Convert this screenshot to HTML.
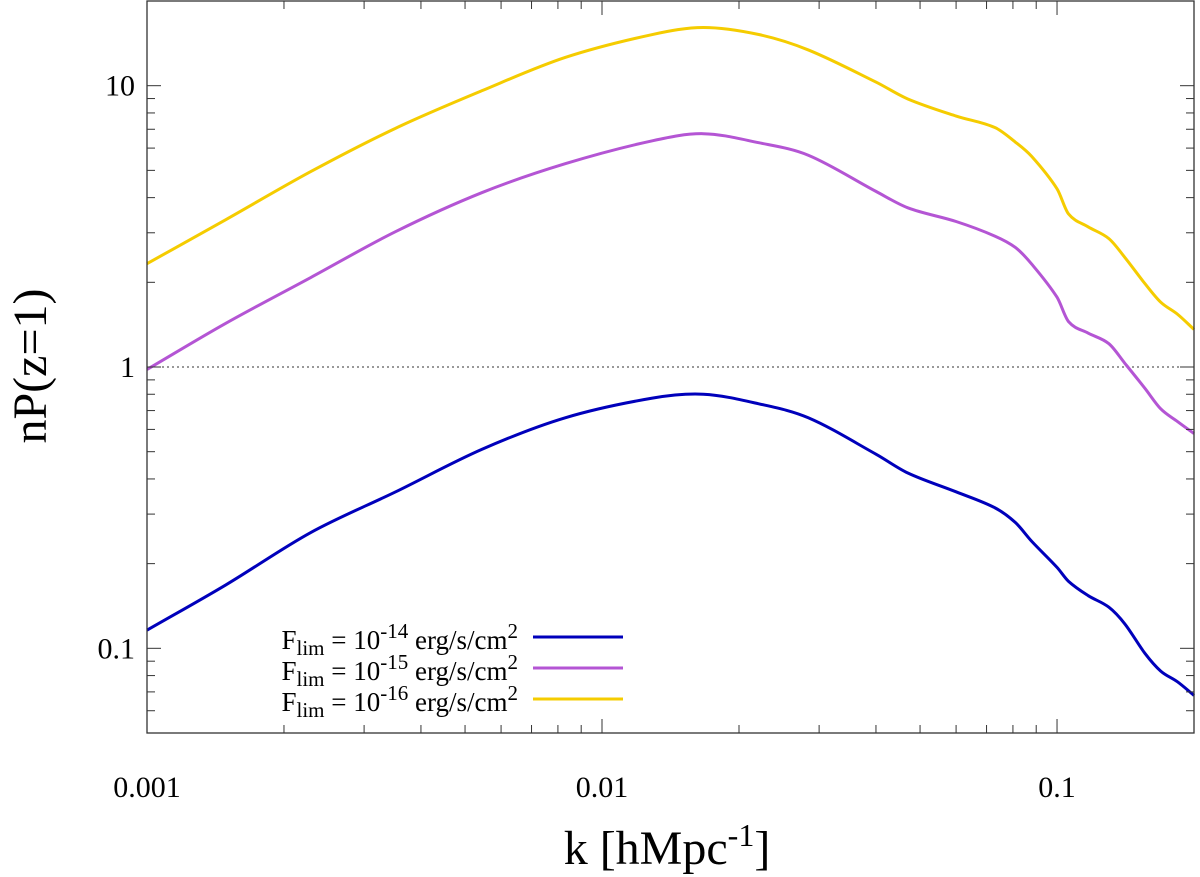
<!DOCTYPE html>
<html><head><meta charset="utf-8">
<style>
html,body{margin:0;padding:0;background:#fff;}
svg{display:block;font-family:"Liberation Serif",serif;}
</style></head>
<body>
<svg id="chart" width="1200" height="877" viewBox="0 0 1200 877" xmlns="http://www.w3.org/2000/svg">
<g id="grid"></g>
<g id="series"></g>
<g id="axes"></g>
<text x="0" y="0" transform="translate(46,366) rotate(-90)" text-anchor="middle" font-size="48">nP(z=1)</text>
<text x="667" y="864" text-anchor="middle" font-size="48">k [hMpc<tspan dy="-18" font-size="32">-1</tspan><tspan dy="18">]</tspan></text>
<g id="legend"></g>
</svg>
<script>
const kValues = [0.001,0.00149,0.00229,0.00352,0.00545,0.0083,0.0129,0.0167,0.0221,0.0284,0.040,0.047,0.060,0.073,0.081,0.088,0.100,0.106,0.117,0.130,0.141,0.156,0.169,0.184,0.2];
const blueValues = [0.116,0.168,0.258,0.36,0.51,0.66,0.775,0.80,0.74,0.66,0.49,0.42,0.36,0.316,0.28,0.24,0.194,0.173,0.154,0.14,0.122,0.096,0.083,0.076,0.068];
const purpleValues = [0.98,1.43,2.08,3.03,4.17,5.28,6.37,6.75,6.27,5.66,4.21,3.68,3.29,2.92,2.66,2.32,1.77,1.45,1.32,1.21,1.03,0.84,0.71,0.64,0.58];
const yellowValues = [2.33,3.34,4.95,7.06,9.6,12.6,15.2,16.1,15.2,13.4,10.3,8.97,7.8,7.1,6.3,5.6,4.3,3.5,3.15,2.86,2.45,1.98,1.70,1.54,1.36];
const xTickLabels = ["0.001","0.01","0.1"];
const yTickLabels = ["0.1","1","10"];
const legendExponents = ["-14","-15","-16"];

const NS="http://www.w3.org/2000/svg";
const L=147,R=1194,T=1,B=733;
const xMin=Math.log10(0.001),xMax=Math.log10(0.2);
const yMin=Math.log10(0.05),yMax=Math.log10(20);
function xs(k){return L+(Math.log10(k)-xMin)/(xMax-xMin)*(R-L);}
function ys(v){return B-(Math.log10(v)-yMin)/(yMax-yMin)*(B-T);}
function mk(tag,attrs,parent){const e=document.createElementNS(NS,tag);for(const a in attrs)e.setAttribute(a,attrs[a]);parent.appendChild(e);return e;}
const axes=document.getElementById('axes'),grid=document.getElementById('grid'),series=document.getElementById('series'),legend=document.getElementById('legend');

const ref=mk('line',{x1:L,x2:R,y1:ys(1),y2:ys(1),stroke:'#333','stroke-width':1,'stroke-dasharray':'2,3'},grid);



for(let d=-3;d<=-1;d++){
  for(let m=1;m<=9;m++){
    const k=m*Math.pow(10,d); if(k>0.2001)continue;
    const x=xs(k), len=m===1?14:8;
    const t1=mk('line',{x1:x,x2:x,y1:B,y2:B-len,stroke:'#333','stroke-width':1},axes);
    
    
    const t2=mk('line',{x1:x,x2:x,y1:T,y2:T+len,stroke:'#333','stroke-width':1},axes);
    
    
  }
}
xTickLabels.forEach(s=>{
  const t=mk('text',{x:xs(parseFloat(s)),y:797,'text-anchor':'middle','font-size':30},axes);
  t.textContent=s;
  
  
});
for(let d=-2;d<=1;d++){
  for(let m=1;m<=9;m++){
    const v=m*Math.pow(10,d); if(v<0.0499||v>20.01)continue;
    const y=ys(v), len=m===1?14:8;
    const t1=mk('line',{x1:L,x2:L+len,y1:y,y2:y,stroke:'#333','stroke-width':1},axes);
    
    
    const t2=mk('line',{x1:R,x2:R-len,y1:y,y2:y,stroke:'#333','stroke-width':1},axes);
    
    
  }
}
yTickLabels.forEach(s=>{
  const t=mk('text',{x:135,y:ys(parseFloat(s))+10,'text-anchor':'end','font-size':30},axes);
  t.textContent=s;
  
  
});
const frame=mk('rect',{x:L,y:T,width:R-L,height:B-T,fill:'none',stroke:'#333','stroke-width':1.3},axes);



function pathFor(vals){
  const p=kValues.map((k,i)=>[xs(k),ys(vals[i])]);
  let d='M'+p[0][0]+','+p[0][1];
  for(let i=0;i<p.length-1;i++){
    const p0=p[Math.max(0,i-1)],p1=p[i],p2=p[i+1],p3=p[Math.min(p.length-1,i+2)];
    const h=p2[0]-p1[0];
    const s1=(p2[1]-p0[1])/(p2[0]-p0[0]||1), s2=(p3[1]-p1[1])/(p3[0]-p1[0]||1);
    d+=' C'+(p1[0]+h/3)+','+(p1[1]+s1*h/3)+' '+(p2[0]-h/3)+','+(p2[1]-s2*h/3)+' '+p2[0]+','+p2[1];
  }
  return d;
}
const defs=[['series-flim-1e-14',blueValues,'#0000bb'],['series-flim-1e-15',purpleValues,'#b455d4'],['series-flim-1e-16',yellowValues,'#f5cc00']];
defs.forEach(([name,vals,col],i)=>{
  const p=mk('path',{d:pathFor(vals),fill:'none',stroke:col,'stroke-width':3,'stroke-linejoin':'round'},series);
  
  
  const y=641+i*31;
  const t=mk('text',{x:518,y:y+8,'text-anchor':'end','font-size':27},legend);
  t.innerHTML='F<tspan dy="6" font-size="21">lim</tspan><tspan dy="-6"> = 10</tspan><tspan dy="-11" font-size="21">'+legendExponents[i]+'</tspan><tspan dy="11"> erg/s/cm</tspan><tspan dy="-11" font-size="21">2</tspan>';
  
  
  const ln=mk('line',{x1:533,x2:623,y1:y-4,y2:y-4,stroke:col,'stroke-width':3},legend);
  
  
});
</script>
</body></html>
